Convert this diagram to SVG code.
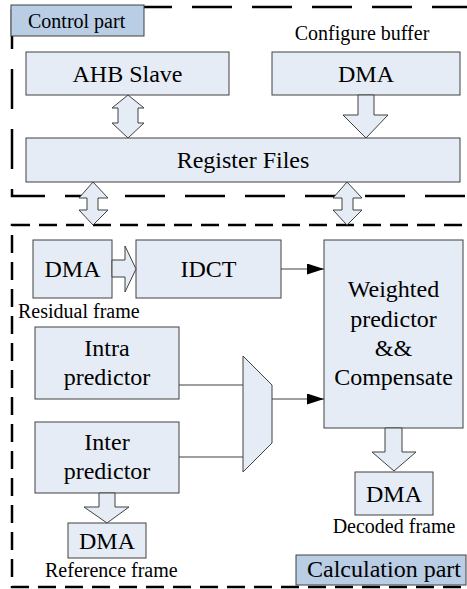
<svg xmlns="http://www.w3.org/2000/svg" width="467" height="589" viewBox="0 0 467 589">
<style>
.node{fill:#e6ecf6;stroke:#404040;stroke-width:1}
.lbl{fill:#b9cde5;stroke:#404040;stroke-width:1}
.arr{fill:#e6ecf6;stroke:#404040;stroke-width:1;stroke-linejoin:miter}
text{font-family:'Liberation Serif','Times New Roman','DejaVu Serif',serif;fill:#000}
.big{font-size:24px}
.sm{font-size:20px}
.c{text-anchor:middle}
.ctrl{fill:none;stroke:#000;stroke-width:2.5;stroke-dasharray:40 20}
.calc{fill:none;stroke:#000;stroke-width:2.5;stroke-dasharray:18 9}
.wire{fill:none;stroke:#404040;stroke-width:1.2}
</style>
<defs>
<marker id="ah" markerWidth="18" markerHeight="11" refX="17" refY="5.5" orient="auto" markerUnits="userSpaceOnUse">
<path d="M0,0 L17,5.5 L0,11 Z" fill="#000"/>
</marker>
</defs>
<rect width="467" height="589" fill="#fff"/>
<g id="regions">
<rect class="ctrl" x="12" y="7" width="462" height="189"/>
<rect class="calc" x="12" y="225" width="462" height="362"/>
</g>
<g id="control-part-label">
<rect class="lbl" x="11" y="5" width="133" height="31"/>
<text class="sm" x="28" y="28" font-family="Liberation Serif, serif">Control part</text>
</g>
<g id="calculation-part-label">
<rect class="lbl" x="296" y="555" width="170" height="30"/>
<text class="big" x="307" y="577" font-family="Liberation Serif, serif">Calculation part</text>
</g>
<g id="ahb-slave">
<rect class="node" x="26" y="52" width="203" height="43"/>
<text class="big c" x="127.5" y="82" font-family="Liberation Serif, serif">AHB Slave</text>
</g>
<g id="dma-config">
<text class="sm c" x="362" y="40" font-family="Liberation Serif, serif">Configure buffer</text>
<rect class="node" x="272" y="52" width="188" height="43"/>
<text class="big c" x="366" y="82" font-family="Liberation Serif, serif">DMA</text>
</g>
<g id="register-files">
<rect class="node" x="26" y="138" width="434" height="44"/>
<text class="big c" x="243" y="168" font-family="Liberation Serif, serif">Register Files</text>
</g>
<g id="dma-residual">
<rect class="node" x="33" y="240" width="79" height="58"/>
<text class="big c" x="72.5" y="277" font-family="Liberation Serif, serif">DMA</text>
<text class="sm" x="18" y="318" font-family="Liberation Serif, serif">Residual frame</text>
</g>
<g id="idct">
<rect class="node" x="136" y="240" width="145" height="58"/>
<text class="big c" x="208.5" y="277" font-family="Liberation Serif, serif">IDCT</text>
</g>
<g id="weighted">
<rect class="node" x="324" y="240" width="139" height="188"/>
<text class="big c" x="393.5" y="297" font-family="Liberation Serif, serif">Weighted</text>
<text class="big c" x="393.5" y="327" font-family="Liberation Serif, serif">predictor</text>
<text class="big c" x="393.5" y="356" font-family="Liberation Serif, serif">&amp;&amp;</text>
<text class="big c" x="393.5" y="385" font-family="Liberation Serif, serif">Compensate</text>
</g>
<g id="intra">
<rect class="node" x="35" y="327" width="144" height="72"/>
<text class="big c" x="107" y="356" font-family="Liberation Serif, serif">Intra</text>
<text class="big c" x="107" y="385" font-family="Liberation Serif, serif">predictor</text>
</g>
<g id="inter">
<rect class="node" x="35" y="422" width="144" height="71"/>
<text class="big c" x="107" y="450" font-family="Liberation Serif, serif">Inter</text>
<text class="big c" x="107" y="479" font-family="Liberation Serif, serif">predictor</text>
</g>
<g id="mux">
<polygon class="node" points="243,356 272,385 272,443 243,472"/>
</g>
<g id="dma-decoded">
<rect class="node" x="355" y="472" width="78" height="43"/>
<text class="big c" x="394" y="502" font-family="Liberation Serif, serif">DMA</text>
<text class="sm c" x="394" y="533" font-family="Liberation Serif, serif">Decoded frame</text>
</g>
<g id="dma-reference">
<rect class="node" x="68" y="523" width="78" height="35"/>
<text class="big c" x="107" y="549" font-family="Liberation Serif, serif">DMA</text>
<text class="sm" x="45" y="577" font-family="Liberation Serif, serif">Reference frame</text>
</g>
<g id="connectors">
<polygon class="arr" points="128,95 144,108 138,108 138,123 144,123 128,138 112,123 118,123 118,108 112,108"/>
<polygon class="arr" points="358,95 374,95 374,115 388,115 366,138 343,115 358,115"/>
<polygon class="arr" points="93,182 108,198 98,198 98,210 108,210 93,225 79,210 87,210 87,198 79,198"/>
<polygon class="arr" points="347,182 362,198 353,198 353,210 362,210 347,225 333,210 342,210 342,198 333,198"/>
<polygon class="arr" points="112,260 125,260 125,246 136,269 125,292 125,277 112,277"/>
<polygon class="arr" points="385,428 402,428 402,452 416,452 394,471 372,452 385,452"/>
<polygon class="arr" points="99,493 115,493 115,507 129,507 107,523 84,507 99,507"/>
<line class="wire" x1="281" y1="269" x2="324" y2="269" marker-end="url(#ah)"/>
<line class="wire" x1="179" y1="385" x2="243" y2="385"/>
<line class="wire" x1="179" y1="457" x2="243" y2="457"/>
<line class="wire" x1="272" y1="399" x2="324" y2="399" marker-end="url(#ah)"/>
</g>
</svg>
